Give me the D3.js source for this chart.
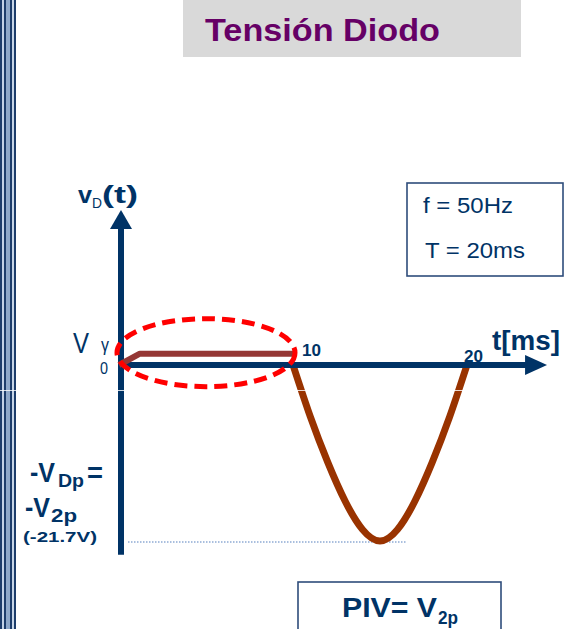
<!DOCTYPE html>
<html>
<head>
<meta charset="utf-8">
<script src="https://cdn.jsdelivr.net/npm/d3@7"></script>
<style>
  html, body { margin: 0; padding: 0; background: #fff; }
  svg { display: block; font-family: "Liberation Sans", Arial, sans-serif; }
</style>
</head>
<body>
<svg id="chart" width="566" height="629"></svg>
<script>
// Diode voltage over one period of a 50 Hz half-wave rectifier
const titleText = "Tensión Diodo";

// forward-biased half cycle: diode clamps at V gamma
const forwardT = [0, 1.2, 10];
const forwardV = [0, 1.4, 1.4];

// reverse-biased half cycle (ms, volts)
const reverseT = [10, 11, 12, 13, 14, 15, 16, 17, 18, 19, 20];
const reverseV = [0, -6.4, -12.0, -16.8, -20.3, -21.7, -20.3, -16.8, -12.0, -6.4, 0];

const peakV = -21.7;
const tickValues = [10, 20];
const tickLabels = ["10", "20"];
const axisT = [0, 24.6];      // time axis extent (ms)
const axisV = [19.1, -23.4];  // voltage axis extent (V)

const navy = "#003366";
const svg = d3.select("#chart");

const x = d3.scaleLinear().domain([0, 20]).range([119, 467]);
const y = d3.scaleLinear().domain([0, peakV]).range([365, 541]);

// text helper: fixed advance width so glyph runs keep their span
function label(px, py, str, size, opts = {}) {
  const t = svg.append("text")
    .attr("x", px).attr("y", py)
    .attr("font-size", size)
    .attr("font-weight", opts.weight || "normal")
    .attr("fill", opts.fill || navy)
    .text(str);
  if (opts.len) t.attr("textLength", opts.len).attr("lengthAdjust", "spacingAndGlyphs");
  return t;
}

// striped frame edge on the left
const stripes = [
  [0, 2, "#1d3d6b"], [2, 4, "#c3d2e6"], [4, 6, "#1d3d6b"], [6, 10, "#8ea8c9"],
  [10, 12, "#1d3d6b"], [12, 14, "#c8d6e8"], [14, 16, "#1d3d6b"]
];
svg.selectAll("rect.stripe").data(stripes).join("rect")
  .attr("class", "stripe")
  .attr("x", d => d[0]).attr("y", 0)
  .attr("width", d => d[1] - d[0]).attr("height", 629)
  .attr("fill", d => d[2]);

// title banner
svg.append("rect").attr("x", 183).attr("y", -2).attr("width", 338).attr("height", 59)
  .attr("fill", "#d9d9d9");
label(205, 41, titleText, 31, { weight: "bold", fill: "#660066", len: 235 });

// info boxes
svg.append("rect").attr("x", 407).attr("y", 183).attr("width", 156).attr("height", 93)
  .attr("fill", "#fff").attr("stroke", "#2e4d7b").attr("stroke-width", 1.6);
label(423, 213, "f = 50Hz", 22, { len: 90 });
label(425, 258, "T = 20ms", 22, { len: 100 });

svg.append("rect").attr("x", 298).attr("y", 582).attr("width", 203).attr("height", 60)
  .attr("fill", "#fff").attr("stroke", "#2e4d7b").attr("stroke-width", 1.6);
label(342, 617, "PIV= V", 27, { weight: "bold", len: 95 });
label(438, 624, "2p", 18, { weight: "bold", len: 20 });

// dotted reference at the negative peak
svg.append("line")
  .attr("x1", 128).attr("x2", 407)
  .attr("y1", y(peakV) + 1).attr("y2", y(peakV) + 1)
  .attr("stroke", "#8eaad4").attr("stroke-width", 1.6)
  .attr("stroke-dasharray", "1.5,1.5");

// waveform
const line = d3.line().x(d => x(d[0])).y(d => y(d[1]));
svg.append("path")
  .datum(reverseT.map((t, i) => [t, reverseV[i]]))
  .attr("d", line.curve(d3.curveNatural))
  .attr("fill", "none").attr("stroke", "#993300").attr("stroke-width", 7)
  .attr("stroke-linecap", "round");

// axes
const vx = x(0) + 2;
svg.append("line")
  .attr("x1", vx).attr("x2", vx)
  .attr("y1", y(axisV[0]) + 16).attr("y2", y(axisV[1]))
  .attr("stroke", navy).attr("stroke-width", 6);
svg.append("path")
  .attr("d", `M${vx},${y(axisV[0])} L${vx - 11},${y(axisV[0]) + 19} L${vx + 11},${y(axisV[0]) + 19} Z`)
  .attr("fill", navy);

svg.append("line")
  .attr("x1", x(0) - 1).attr("x2", x(axisT[1]) - 18)
  .attr("y1", y(0)).attr("y2", y(0))
  .attr("stroke", navy).attr("stroke-width", 6);
svg.append("path")
  .attr("d", `M${x(axisT[1])},${y(0)} L${x(axisT[1]) - 22},${y(0) - 10} L${x(axisT[1]) - 22},${y(0) + 10} Z`)
  .attr("fill", navy);

// forward-bias segment
const fwd = forwardT.map((t, i) => [t, forwardV[i]]);
svg.append("path")
  .attr("d", d3.line().x(d => x(d[0])).y(d => y(d[1]))(fwd))
  .attr("fill", "none").attr("stroke", "#953735").attr("stroke-width", 6)
  .attr("stroke-linejoin", "round");

// highlight ellipse around the conduction interval
svg.append("ellipse")
  .attr("cx", x(5)).attr("cy", y(forwardV[1]) - 1)
  .attr("rx", 89).attr("ry", 34)
  .attr("fill", "none").attr("stroke", "#ff0000").attr("stroke-width", 5)
  .attr("stroke-dasharray", "13,7");

// tick labels
svg.selectAll("text.tick").data(tickValues).join("text")
  .attr("class", "tick")
  .attr("x", (d, i) => x(d) + (i === 0 ? 9 : -3))
  .attr("y", (d, i) => (i === 0 ? 356 : 362))
  .attr("font-size", 17).attr("font-weight", "bold").attr("fill", navy)
  .attr("textLength", 19).attr("lengthAdjust", "spacingAndGlyphs")
  .text((d, i) => tickLabels[i]);
label(100, 374, "0", 17, { len: 8 });

// axis titles
label(78, 203, "v", 24, { weight: "bold", len: 14 });
label(92, 208, "D", 15, { len: 10 });
label(102, 203, "(t)", 24, { weight: "bold", len: 36 });

label(492, 350, "t[ms]", 27, { weight: "bold", len: 68 });

label(73, 353, "V", 30, { len: 16 });
label(101, 351, "γ", 19, { len: 8 });

// negative peak annotation
label(30, 482, "-V", 27, { weight: "bold", len: 25 });
label(58, 487, "Dp", 18, { weight: "bold", len: 26 });
label(87, 482, "=", 27, { weight: "bold", len: 16 });

label(25, 517, "-V", 27, { weight: "bold", len: 25 });
label(51, 522, "2p", 18, { weight: "bold", len: 26 });

label(23, 542, "(" + peakV + "V)", 14, { weight: "bold", len: 74 });

// thin light seam across the slide
svg.append("line").attr("x1", 0).attr("x2", 566).attr("y1", 390.5).attr("y2", 390.5)
  .attr("stroke", "#ffffff").attr("stroke-opacity", 0.8).attr("stroke-width", 1);
</script>
</body>
</html>
